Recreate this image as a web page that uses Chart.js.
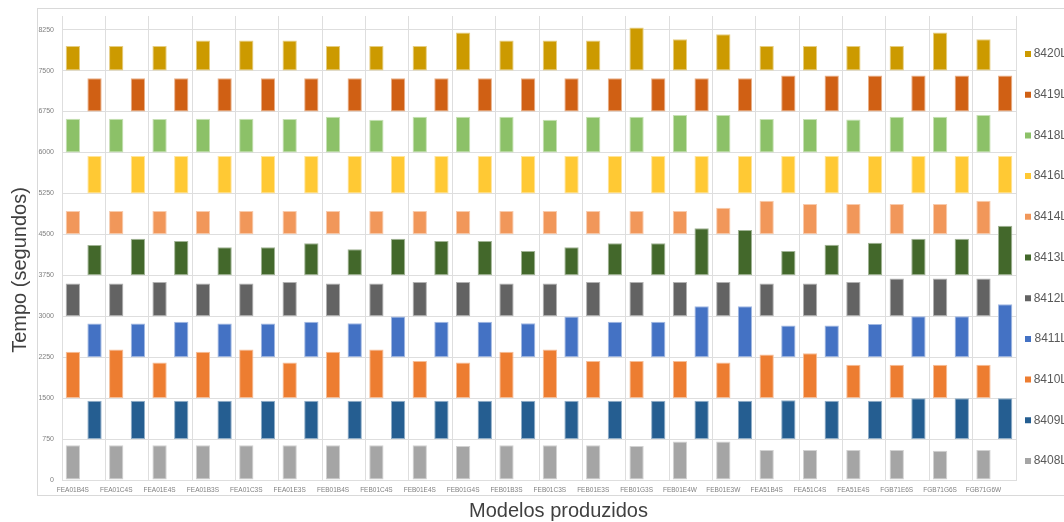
<!DOCTYPE html>
<html>
<head>
<meta charset="utf-8">
<script src="https://cdn.jsdelivr.net/npm/chart.js@4.4.1/dist/chart.umd.min.js"></script>
<style>
  html, body { margin: 0; padding: 0; background: #fff; overflow: hidden; }
  canvas { display: block; }
</style>
</head>
<body>
<canvas id="chart" width="1064" height="522"></canvas>
<script>
// Production models on the horizontal axis
const categories = [
  'FEA01B4S', 'FEA01C4S', 'FEA01E4S', 'FEA01B3S', 'FEA01C3S', 'FEA01E3S',
  'FEB01B4S', 'FEB01C4S', 'FEB01E4S', 'FEB01G4S', 'FEB01B3S', 'FEB01C3S',
  'FEB01E3S', 'FEB01G3S', 'FEB01E4W', 'FEB01E3W', 'FEA51B4S', 'FEA51C4S',
  'FEA51E4S', 'FGB71E6S', 'FGB71G6S', 'FGB71G6W'
];

// Station names and the band (start time, seconds) each one is drawn from
const stations = ['8408L', '8409L', '8410L', '8411L', '8412L', '8413L', '8414L', '8416L', '8418L', '8419L', '8420L'];
const bandStart = [0, 750, 1500, 2250, 3000, 3750, 4500, 5250, 6000, 6750, 7500];

// Cycle time per model at each station (seconds)
const t8408 = [636, 636, 636, 636, 636, 636, 636, 636, 636, 623, 636, 636, 636, 623, 703, 703, 550, 550, 550, 550, 538, 550];
const t8409 = [703, 703, 703, 703, 703, 703, 703, 703, 703, 703, 703, 703, 703, 703, 703, 703, 710, 703, 703, 746, 746, 746];
const t8410 = [849, 892, 654, 849, 892, 654, 849, 892, 678, 654, 849, 892, 678, 678, 678, 654, 800, 820, 610, 610, 610, 610];
const t8411 = [617, 617, 648, 617, 617, 648, 623, 745, 648, 648, 623, 745, 648, 648, 935, 935, 580, 580, 610, 750, 750, 970];
const t8412 = [599, 599, 629, 599, 599, 629, 599, 599, 629, 629, 599, 599, 629, 629, 629, 629, 599, 599, 629, 690, 690, 690];
const t8413 = [554, 671, 628, 512, 512, 585, 475, 671, 628, 628, 445, 512, 585, 585, 860, 829, 445, 561, 597, 671, 671, 909];
const t8414 = [428, 428, 428, 428, 428, 428, 428, 428, 428, 428, 428, 428, 428, 428, 428, 489, 617, 556, 556, 556, 556, 617];
const t8416 = [685, 685, 685, 685, 685, 685, 685, 685, 685, 685, 685, 685, 685, 685, 685, 685, 685, 685, 685, 685, 685, 685];
const t8418 = [617, 617, 611, 617, 617, 611, 655, 600, 655, 655, 655, 600, 655, 655, 685, 685, 611, 611, 605, 655, 655, 685];
const t8419 = [610, 610, 610, 610, 610, 610, 610, 610, 610, 610, 610, 610, 610, 610, 610, 610, 660, 660, 660, 660, 660, 660];
const t8420 = [450, 450, 450, 550, 550, 550, 450, 450, 450, 700, 550, 550, 550, 790, 575, 665, 450, 450, 450, 450, 700, 575];

// Y axis ticks
const yTicks = [0, 750, 1500, 2250, 3000, 3750, 4500, 5250, 6000, 6750, 7500, 8250];

const yTitle = 'Tempo (segundos)';
const xTitle = 'Modelos produzidos';

const times = [t8408, t8409, t8410, t8411, t8412, t8413, t8414, t8416, t8418, t8419, t8420];
const colors = ['#A5A5A5', '#255E91', '#ED7D31', '#4472C4', '#636363', '#43682B',
                '#F1975A', '#FFC934', '#8CC168', '#D06014', '#CC9A00'];

// Lighter outline tone for each bar colour
function tint(hex, amount) {
  const n = parseInt(hex.slice(1), 16);
  const r = (n >> 16) & 255, g = (n >> 8) & 255, b = n & 255;
  const m = v => Math.round(v + (255 - v) * amount);
  return `rgb(${m(r)},${m(g)},${m(b)})`;
}

const datasets = stations.map((name, s) => ({
  label: name,
  data: times[s].map(v => [bandStart[s], bandStart[s] + v]),
  backgroundColor: colors[s],
  borderColor: tint(colors[s], 0.5),
  borderWidth: 1,
  borderSkipped: false,
  stack: s % 2 === 0 ? 'left' : 'right',
  barPercentage: 0.66,
  categoryPercentage: 1.0
}));

const gridColor = '#dedede';
const fontFamily = '"Liberation Sans", Arial, sans-serif';
Chart.defaults.font.family = fontFamily;

// Outer frame plus the two axis titles
const frameAndTitles = {
  id: 'frameAndTitles',
  beforeDraw(chart) {
    const ctx = chart.ctx;
    ctx.save();
    ctx.strokeStyle = '#d9d9d9';
    ctx.lineWidth = 1;
    ctx.strokeRect(37.5, 8.5, 1100, 487);
    ctx.restore();
  },
  afterDraw(chart) {
    const ctx = chart.ctx;
    ctx.save();
    ctx.fillStyle = '#404040';
    ctx.font = '20px ' + fontFamily;
    ctx.textAlign = 'center';
    ctx.textBaseline = 'alphabetic';
    ctx.fillText(xTitle, 558.5, 517);
    ctx.translate(25.5, 270);
    ctx.rotate(-Math.PI / 2);
    ctx.fillText(yTitle, 0, 0);
    ctx.restore();
  }
};

// Keep the legend column close to the plot, starting near the top
const legendPlacement = {
  id: 'legendPlacement',
  afterLayout(chart) {
    const lg = chart.legend;
    if (!lg) return;
    const pad = lg.options.labels.padding;
    const area = chart.chartArea;
    lg.left = area.right + 9 - pad;
    lg.right = area.right + 51;
    lg.top = 19.3;
    lg.bottom = chart.height;
  }
};

new Chart(document.getElementById('chart'), {
  type: 'bar',
  data: { labels: categories, datasets },
  plugins: [frameAndTitles, legendPlacement],
  options: {
    responsive: false,
    animation: false,
    devicePixelRatio: 1,
    layout: { padding: { top: 16, left: 0, right: 0, bottom: 0 } },
    plugins: {
      tooltip: { enabled: false },
      legend: {
        position: 'right',
        align: 'start',
        reverse: true,
        maxWidth: 48,
        labels: {
          boxWidth: 6,
          boxHeight: 6,
          padding: 28.7,
          color: '#595959',
          textAlign: 'right',
          font: { size: 12 },
          generateLabels(chart) {
            return Chart.defaults.plugins.legend.labels.generateLabels(chart)
              .map(item => Object.assign(item, { lineWidth: 0 }));
          }
        }
      }
    },
    scales: {
      x: {
        grid: { color: gridColor, drawTicks: false, offset: true },
        border: { color: gridColor },
        ticks: {
          autoSkip: false,
          maxRotation: 0,
          minRotation: 0,
          labelOffset: -10.84,
          padding: 6,
          color: '#7f7f7f',
          font: { size: 6.5 }
        },
        afterFit(scale) { scale.height = 42; }
      },
      y: {
        stacked: false,
        min: 0,
        max: 8500,
        grid: { color: gridColor, drawTicks: false },
        border: { color: gridColor },
        ticks: {
          stepSize: 750,
          includeBounds: false,
          padding: 8,
          color: '#7f7f7f',
          font: { size: 7 },
          callback: v => String(v)
        },
        afterBuildTicks(scale) {
          scale.ticks = yTicks.map(v => ({ value: v }));
        },
        afterFit(scale) { scale.width = 62; }
      }
    }
  }
});
</script>
</body>
</html>
